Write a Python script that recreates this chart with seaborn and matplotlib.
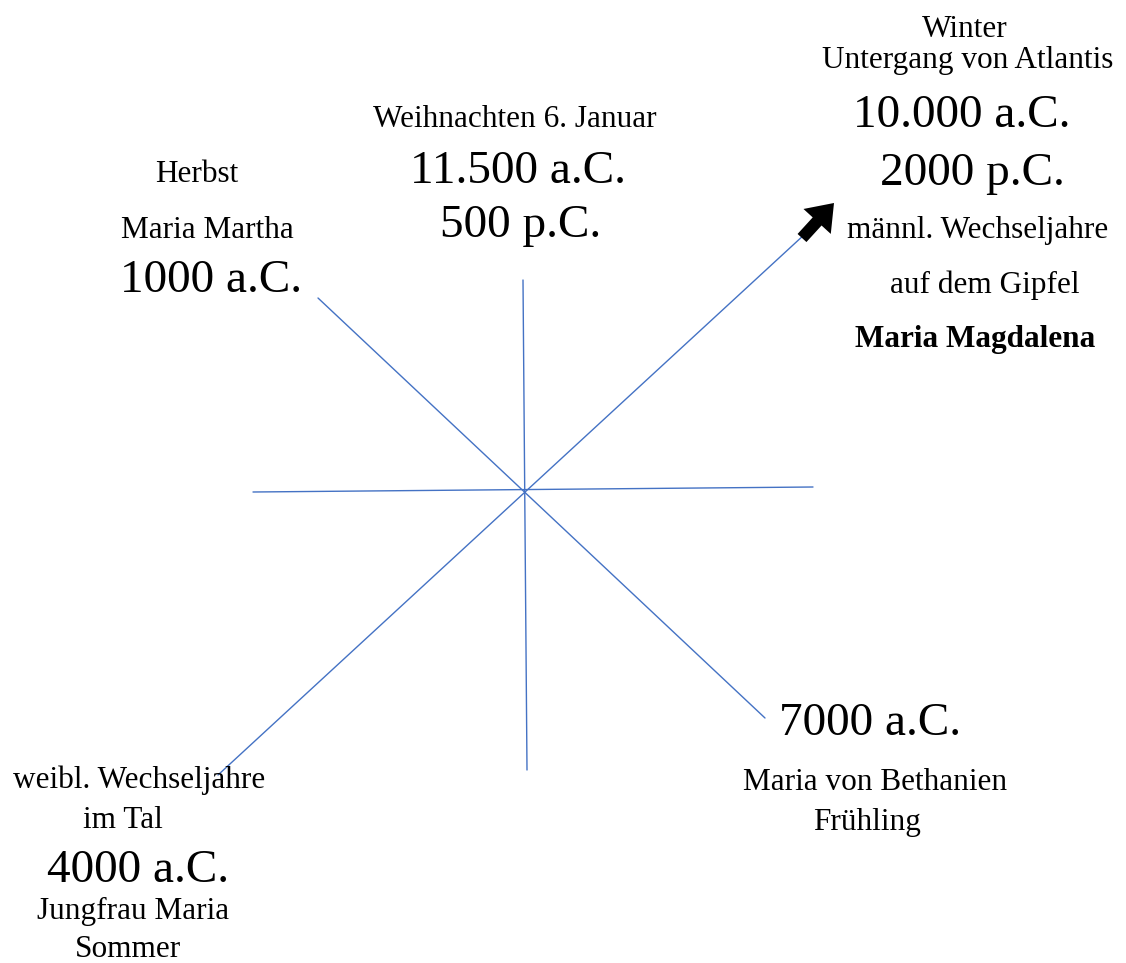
"""
plot.py
-------
Zeitrad-Diagramm: acht Speichen um einen Mittelpunkt mit Beschriftungen.
"""

import matplotlib.pyplot as plt
import pandas as pd
import seaborn as sns
from matplotlib.patches import FancyArrow

# Speichen (Pixel-Koordinaten des Bildes, y nach unten)
spoke_names = ["vertikal", "horizontal", "diagonal_links_oben", "diagonal_links_unten"]
spoke_x_start = [523, 253, 318, 218]
spoke_y_start = [280, 492, 298, 775]
spoke_x_end = [527, 813, 765, 805]
spoke_y_end = [770, 487, 718, 234]

# Beschriftungen
label_texts = [
    "Winter", "Untergang von Atlantis", "10.000 a.C.", "2000 p.C.",
    "männl. Wechseljahre", "auf dem Gipfel", "Maria Magdalena",
    "Weihnachten 6. Januar", "11.500 a.C.", "500 p.C.",
    "Herbst", "Maria Martha", "1000 a.C.",
    "7000 a.C.", "Maria von Bethanien", "Frühling",
    "weibl. Wechseljahre", "im Tal", "4000 a.C.", "Jungfrau Maria", "Sommer",
]
label_x = [965, 968, 962, 972, 978, 985, 975, 515, 518, 521, 197, 207, 211,
           870, 875, 867, 139, 123, 138, 133, 128]
label_y = [37, 68, 127, 185, 238, 293, 347, 127, 183, 237, 182, 238, 292,
           735, 790, 830, 788, 828, 882, 919, 957]
label_big = [False, False, True, True, False, False, False, False, True, True,
             False, False, True, True, False, False, False, False, True, False, False]
label_bold = [False, False, False, False, False, False, True, False, False, False,
              False, False, False, False, False, False, False, False, False, False, False]

# Pfeil am Ende der Diagonale
arrow_tail = (802, 238)
arrow_tip = (834, 203)


def build_spoke_frame() -> pd.DataFrame:
    rows = []
    for i, name in enumerate(spoke_names):
        rows.append({"spoke": name, "x": spoke_x_start[i], "y": spoke_y_start[i], "order": 0})
        rows.append({"spoke": name, "x": spoke_x_end[i], "y": spoke_y_end[i], "order": 1})
    return pd.DataFrame(rows)


def main() -> None:
    sns.set_style("white")
    plt.rcParams["font.family"] = ["Liberation Serif", "DejaVu Serif"]

    fig = plt.figure(figsize=(11.26, 9.63), dpi=100)
    ax = fig.add_axes([0, 0, 1, 1])

    spokes = build_spoke_frame()
    sns.lineplot(
        data=spokes, x="x", y="y", units="spoke", estimator=None, sort=False,
        color="#4472C4", linewidth=1.0, ax=ax,
    )

    dx = arrow_tip[0] - arrow_tail[0]
    dy = arrow_tip[1] - arrow_tail[1]
    ax.add_patch(FancyArrow(
        arrow_tail[0], arrow_tail[1], dx, dy, width=12, head_width=37,
        head_length=25, length_includes_head=True, color="black",
        linewidth=0, zorder=3,
    ))

    for text, x, y, big, bold in zip(label_texts, label_x, label_y, label_big, label_bold):
        ax.text(
            x, y, text, ha="center", va="baseline",
            fontsize=34 if big else 22.5,
            fontweight="bold" if bold else "normal",
            color="black",
        )

    ax.set_xlim(0, 1126)
    ax.set_ylim(963, 0)
    ax.set_axis_off()

    fig.savefig("out.png", dpi=100)
    plt.close(fig)


if __name__ == "__main__":
    main()
